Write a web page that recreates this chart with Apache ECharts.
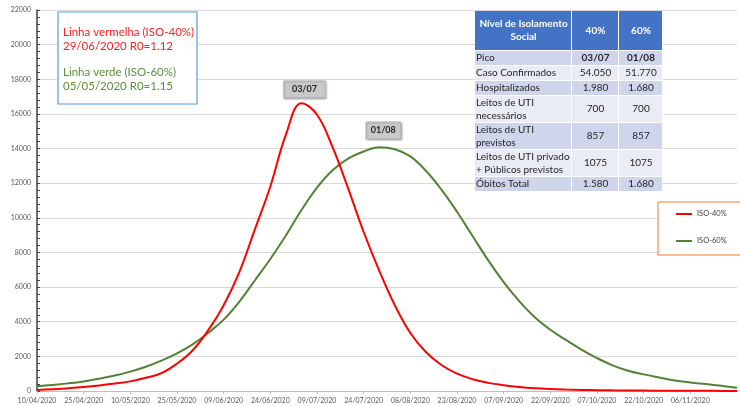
<!DOCTYPE html>
<html>
<head>
<meta charset="utf-8">
<script src="https://cdn.jsdelivr.net/npm/echarts@6/dist/echarts.min.js"></script>
<style>
html,body{margin:0;padding:0;background:#fff;}
#chart{width:740px;height:406px;}
</style>
</head>
<body>
<div id="chart"></div>
<script>
// ---- data ----
const dates = ['10/04/2020','15/04/2020','20/04/2020','25/04/2020','30/04/2020','05/05/2020','10/05/2020','15/05/2020','20/05/2020','25/05/2020','30/05/2020','04/06/2020','09/06/2020','14/06/2020','19/06/2020','24/06/2020','29/06/2020','04/07/2020','09/07/2020','14/07/2020','19/07/2020','24/07/2020','29/07/2020','03/08/2020','08/08/2020','13/08/2020','18/08/2020','23/08/2020','28/08/2020','02/09/2020','07/09/2020','12/09/2020','17/09/2020','22/09/2020','27/09/2020','02/10/2020','07/10/2020','12/10/2020','17/10/2020','22/10/2020','27/10/2020','01/11/2020','06/11/2020','11/11/2020','16/11/2020','21/11/2020'];
const iso40 = [60,100,160,230,320,430,555,760,1030,1580,2340,3500,4950,6850,9320,11810,14800,16620,15950,14080,11700,9180,6950,4950,3350,2250,1500,1000,680,470,330,230,160,115,85,62,48,37,29,23,18,14,11,9,7,6];
const iso60 = [280,350,440,555,710,890,1120,1400,1750,2170,2690,3350,4120,5150,6380,7620,8980,10450,11750,12750,13420,13830,14070,13960,13550,12720,11630,10350,8950,7560,6290,5190,4260,3540,2950,2390,1900,1480,1170,960,780,610,495,400,300,190];
const seriesNames = ['ISO-40%','ISO-60%'];
const peakLabels = ['03/07','01/08'];
const yTicks = {min:0, max:22000, interval:2000};
const noteLines = ['Linha vermelha (ISO-40%)','29/06/2020 R0=1.12','Linha verde (ISO-60%)','05/05/2020 R0=1.15'];
const tableHeader = ['Nível de Isolamento\nSocial','40%','60%'];
const tableRows = [
  ['Pico','03/07','01/08'],
  ['Caso Confirmados','54.050','51.770'],
  ['Hospitalizados','1.980','1.680'],
  ['Leitos de UTI\nnecessários','700','700'],
  ['Leitos de UTI\nprevistos','857','857'],
  ['Leitos de UTI privado\n+ Públicos previstos','1075','1075'],
  ['Óbitos Total','1.580','1.680']
];

// ---- layout / style ----
const FONT = 'Lato, "Open Sans", sans-serif';
const RED = '#ff0000', GREEN = '#548235';
function argmax(a){let m=0;for(let i=1;i<a.length;i++) if(a[i]>a[m]) m=i;return m;}
const labelEvery = (idx) => idx % 3 === 0 && idx < dates.length - 1;

const graphics = [];
// note box
graphics.push({type:'rect', shape:{x:58,y:12,width:139,height:92}, style:{fill:'#fff', stroke:'#5b9bd5', lineWidth:1.2}, z:10});
const noteY = [32,46.5,72,86.5];
const noteCol = ['#ff2020','#ff2020','#5b8f3b','#5b8f3b'];
noteLines.forEach((t,i)=>graphics.push({type:'text', z:11, style:{text:t, x:63, y:noteY[i], verticalAlign:'middle', align:'left', font:'11.5px '+FONT, fill:noteCol[i]}}));

// table
const colX = [475,572,619,663];
const headerY = [11,50];
const rowH = [14,14,14,26,26,26,14];
graphics.push({type:'rect', z:10, shape:{x:colX[0],y:headerY[0],width:colX[3]-colX[0],height:190-headerY[0]}, style:{fill:'#fff'}});
for(let c=0;c<3;c++){
  graphics.push({type:'rect', z:11, shape:{x:colX[c],y:headerY[0],width:colX[c+1]-colX[c]-1,height:headerY[1]-headerY[0]}, style:{fill:'#4472c4'}});
  graphics.push({type:'text', z:12, style:{text:tableHeader[c], x:(colX[c]+colX[c+1])/2, y:(headerY[0]+headerY[1])/2, align:'center', verticalAlign:'middle', font:'bold 10px '+FONT, fill:'#fff', lineHeight:13}});
}
let yy = headerY[1]+1;
tableRows.forEach((row,r)=>{
  const h = rowH[r];
  const fill = r%2===0 ? '#cfd5ea' : '#e9ebf5';
  for(let c=0;c<3;c++){
    graphics.push({type:'rect', z:11, shape:{x:colX[c],y:yy,width:colX[c+1]-colX[c]-1,height:h}, style:{fill:fill}});
    graphics.push({type:'text', z:12, style:{text:row[c], x: c===0 ? colX[0]+1 : (colX[c]+colX[c+1])/2, y:yy+h/2, align: c===0?'left':'center', verticalAlign:'middle', font:(r===0&&c>0?'bold ':'')+'10px '+FONT, fill:'#262626', lineHeight:13}});
  }
  yy += h+1;
});

const peakBox = (idx, data, label, size, offset) => ({
  symbol:'rect', symbolSize:size, symbolOffset:offset,
  itemStyle:{color:'#c9c9c9', borderColor:'#b5b5b5', borderWidth:0.5, shadowBlur:2, shadowColor:'rgba(0,0,0,0.35)', shadowOffsetX:1, shadowOffsetY:1},
  label:{show:true, position:'inside', formatter:label, color:'#262626', fontWeight:'bold', fontSize:9, fontFamily:FONT},
  data:[{coord:[dates[idx], data[idx]]}]
});

const chart = echarts.init(document.getElementById('chart'), null, {renderer:'canvas'});
chart.setOption({
  animation:false,
  backgroundColor:'#fff',
  grid:{left:37, right:3, top:10, bottom:15, containLabel:false},
  legend:{orient:'vertical', left:658, top:202, padding:[8,20,10,18], itemGap:19, itemWidth:16, itemHeight:2, icon:'rect',
    borderColor:'#ed7d31', borderWidth:1, backgroundColor:'#fff',
    textStyle:{fontSize:7.5, color:'#404040', fontFamily:FONT}, data:seriesNames},
  xAxis:{type:'category', data:dates, boundaryGap:false,
    axisLine:{lineStyle:{color:'#bfbfbf'}},
    axisTick:{show:true, interval:labelEvery, length:3, lineStyle:{color:'#bfbfbf'}},
    axisLabel:{interval:labelEvery, fontSize:7, color:'#595959', margin:6, fontFamily:FONT},
    splitLine:{show:false}},
  yAxis:{type:'value', min:yTicks.min, max:yTicks.max, interval:yTicks.interval,
    axisLine:{show:true, lineStyle:{color:'#404040', width:1.5}},
    axisTick:{show:true, inside:true, length:3, lineStyle:{color:'#404040'}},
    minorTick:{show:true, splitNumber:5, length:3, lineStyle:{color:'#404040'}},
    axisLabel:{fontSize:7, color:'#595959', margin:6, fontFamily:FONT, formatter:(v)=>String(v)},
    splitLine:{lineStyle:{color:'#d9d9d9', width:1}}},
  series:[
    {name:seriesNames[1], type:'line', data:iso60, smooth:0.4, showSymbol:false, lineStyle:{color:GREEN, width:2}, itemStyle:{color:GREEN},
      markPoint: peakBox(argmax(iso60), iso60, peakLabels[1], [35,17], [4,-17])},
    {name:seriesNames[0], type:'line', data:iso40, smooth:0.4, showSymbol:false, lineStyle:{color:RED, width:2}, itemStyle:{color:RED},
      markPoint: peakBox(argmax(iso40), iso40, peakLabels[0], [42,17], [3,-14])}
  ],
  graphic:graphics
});
</script>
</body>
</html>
